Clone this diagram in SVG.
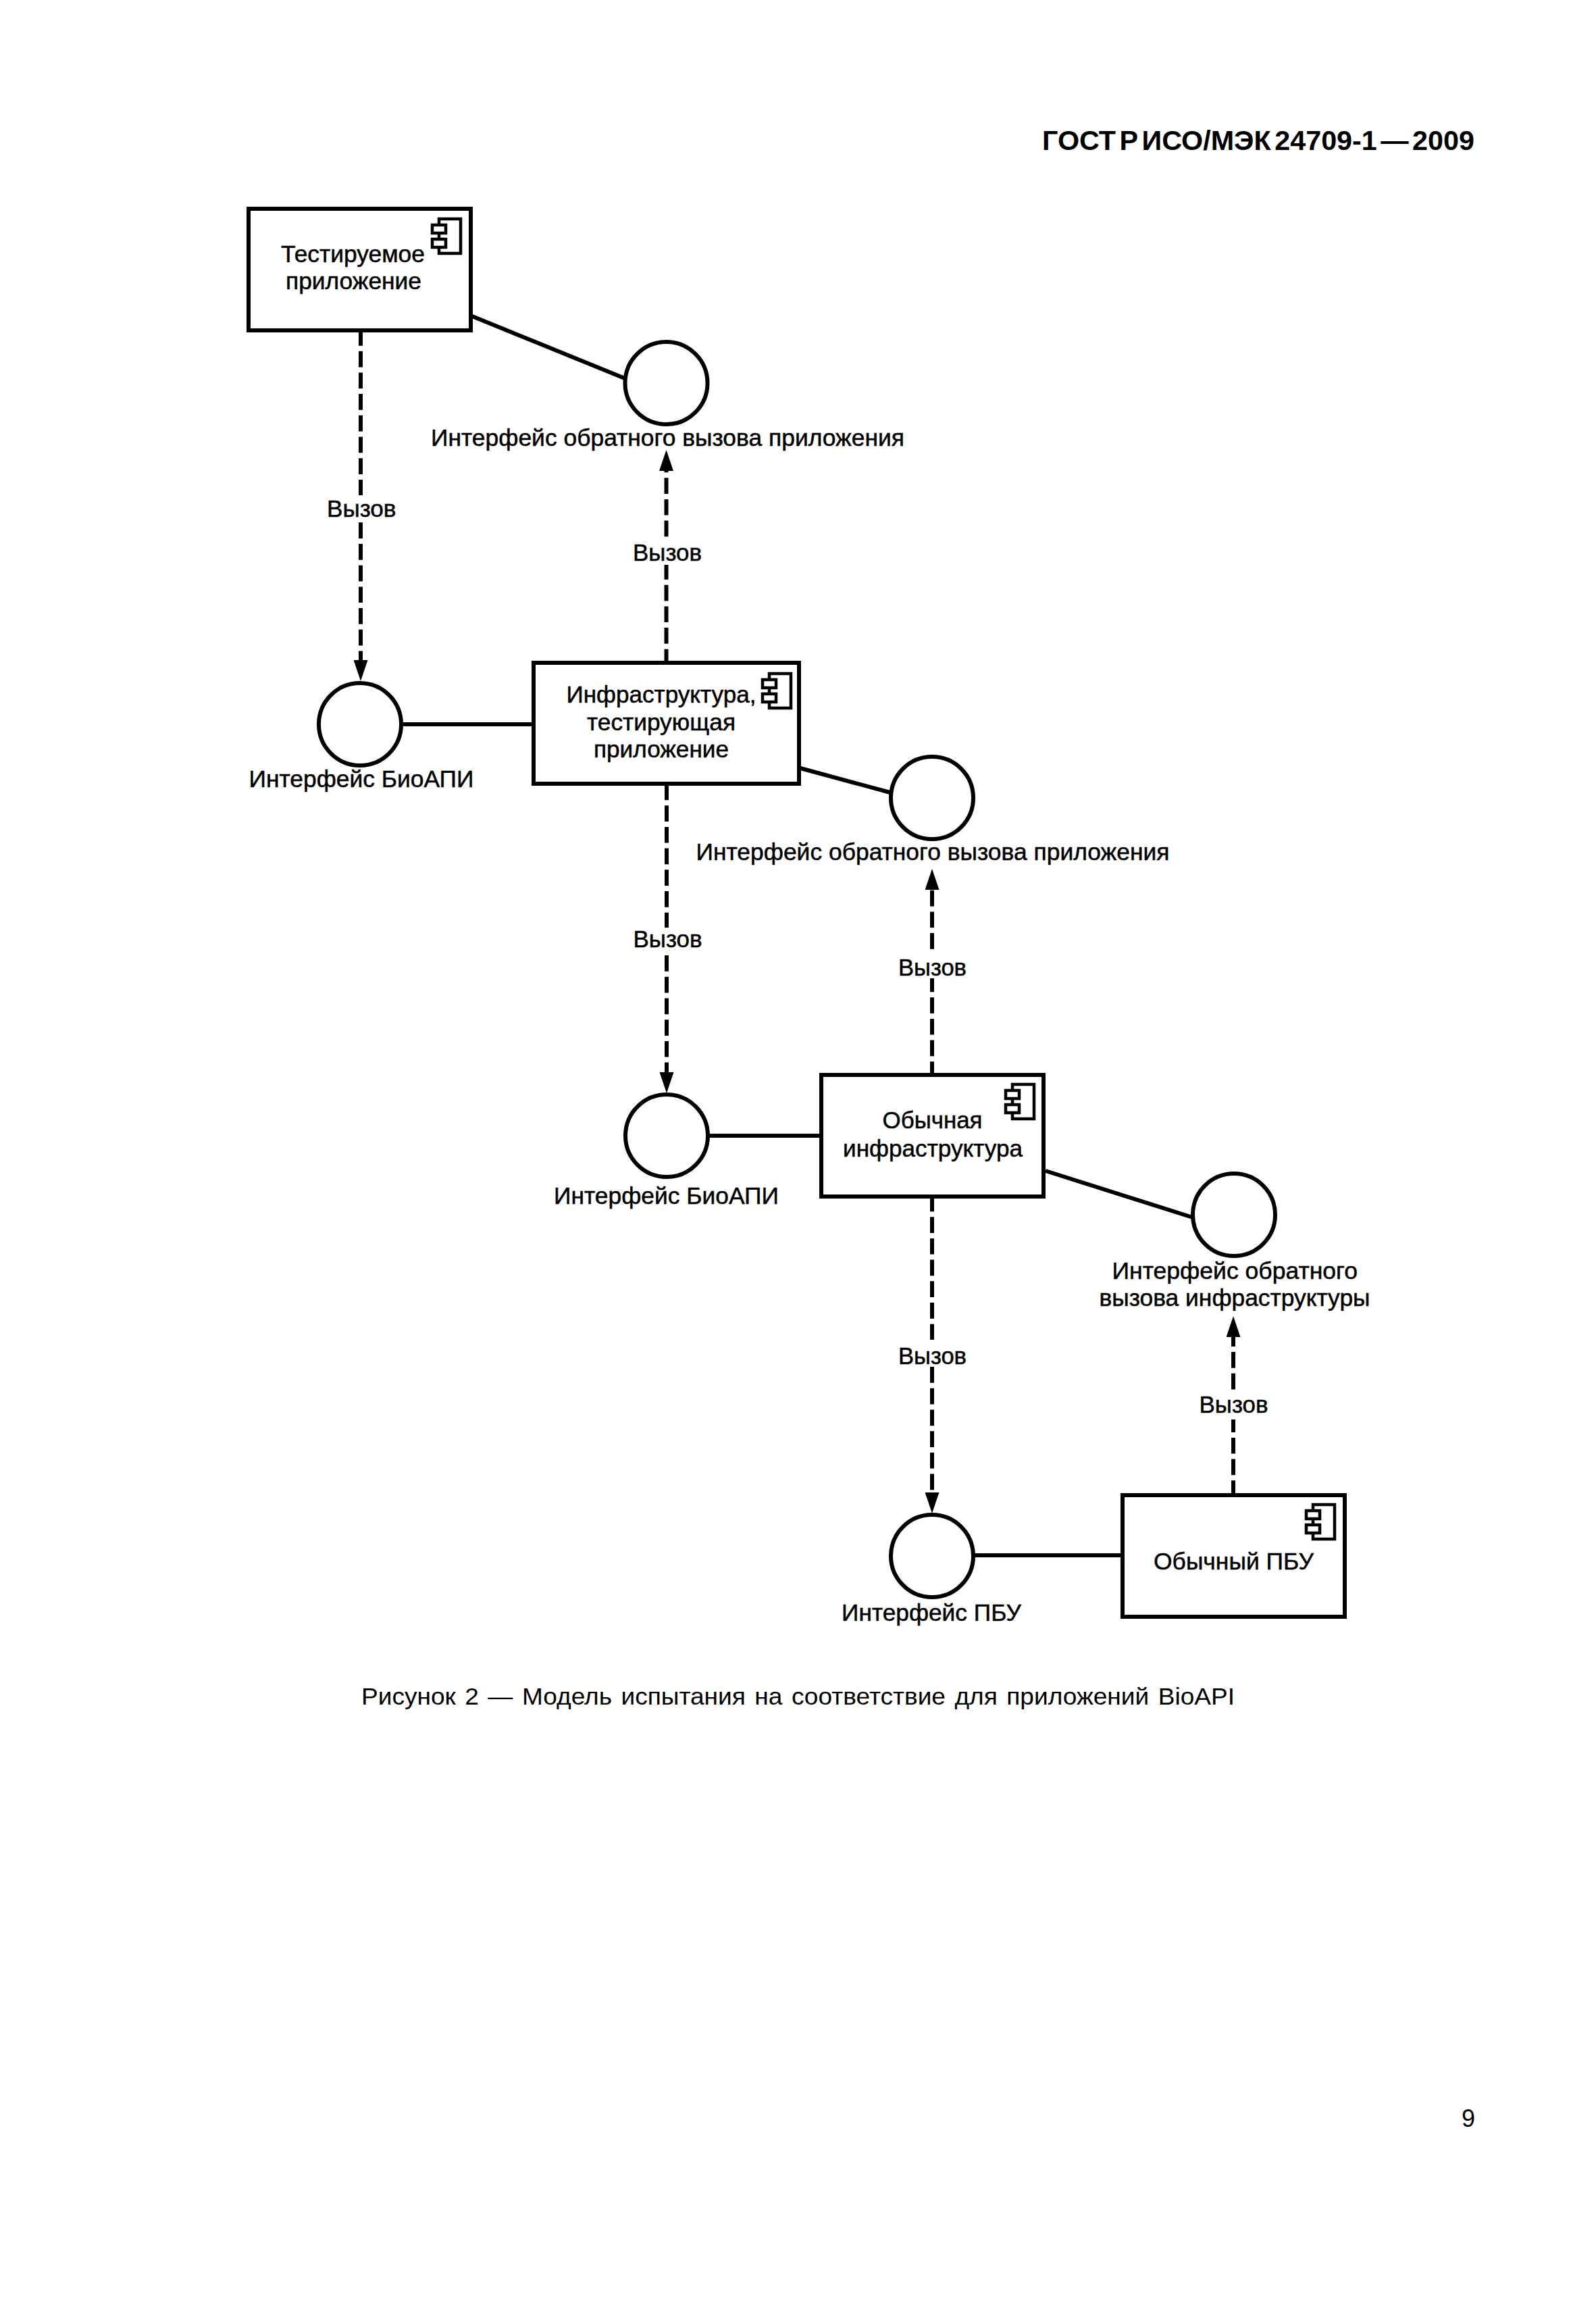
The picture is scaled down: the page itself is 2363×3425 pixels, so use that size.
<svg xmlns="http://www.w3.org/2000/svg" xmlns:xlink="http://www.w3.org/1999/xlink" width="2363" height="3425" viewBox="0 0 2363 3425">
<style>
text{font-family:"Liberation Sans",Arial,sans-serif;font-size:35px;fill:#000}
.lbl{stroke:#000;stroke-width:.5px}
.box{fill:#fff;stroke:#000;stroke-width:6}
.if{fill:#fff;stroke:#000;stroke-width:6}
.solid{fill:none;stroke:#000;stroke-width:6}
.dash{fill:none;stroke:#000;stroke-width:6;stroke-dasharray:23.7 8;marker-end:url(#arrow)}
.bg{fill:#fff}
.ic{fill:#fff;stroke:#000;stroke-width:4.5}
</style>
<defs>
<marker id="arrow" markerUnits="userSpaceOnUse" viewBox="0 0 31 21" markerWidth="31" markerHeight="21" refX="0" refY="10.5" orient="auto"><path d="M0,0L31,10.5L0,21z" fill="#000"/></marker>
<g id="icon"><rect class="ic" width="32" height="51"/><rect class="ic" x="-10" y="9" width="20" height="12"/><rect class="ic" x="-10" y="30" width="20" height="12"/></g>
</defs>
<rect width="2363" height="3425" fill="#fff"/>
<g id="page">
<text x="1543" y="222" style="font-size:41px;font-weight:700" textLength="640" lengthAdjust="spacingAndGlyphs" word-spacing="-6">ГОСТ Р ИСО/МЭК 24709-1 — 2009</text>
<text x="535" y="2523" textLength="1293" lengthAdjust="spacingAndGlyphs" word-spacing="3">Рисунок 2 — Модель испытания на соответствие для приложений BioAPI</text>
<text x="2164" y="3148" style="font-size:36px">9</text>
</g>
<g id="connectors">
<path class="solid" d="M699,468L925,560"/>
<path class="solid" d="M597,1072H790"/>
<path class="solid" d="M1185,1137L1318,1173"/>
<path class="solid" d="M1050,1681H1216"/>
<path class="solid" d="M1548,1733L1766,1802"/>
<path class="solid" d="M1443,2302H1662"/>
<path class="dash" d="M534,488V977"/>
<path class="dash" d="M986.5,984.5V697"/>
<path class="dash" d="M987,1160.5V1587"/>
<path class="dash" d="M1380,1595V1317"/>
<path class="dash" d="M1380,1769.5V2209"/>
<path class="dash" d="M1826,2215V1979"/>
<g id="call-labels">
<rect class="bg" x="505" y="733" width="60" height="40"/><text class="lbl" x="484" y="764.5" textLength="102.5" lengthAdjust="spacingAndGlyphs">Вызов</text>
<rect class="bg" x="957" y="798" width="60" height="38"/><text class="lbl" x="937" y="830" textLength="102" lengthAdjust="spacingAndGlyphs">Вызов</text>
<rect class="bg" x="957" y="1373" width="60" height="36"/><text class="lbl" x="937.5" y="1402" textLength="102" lengthAdjust="spacingAndGlyphs">Вызов</text>
<rect class="bg" x="1350" y="1410" width="60" height="38"/><text class="lbl" x="1330" y="1444" textLength="101" lengthAdjust="spacingAndGlyphs">Вызов</text>
<rect class="bg" x="1350" y="1983" width="60" height="40"/><text class="lbl" x="1330" y="2019" textLength="101" lengthAdjust="spacingAndGlyphs">Вызов</text>
<rect class="bg" x="1796" y="2063" width="60" height="38"/><text class="lbl" x="1775.5" y="2090.5" textLength="102" lengthAdjust="spacingAndGlyphs">Вызов</text>
</g>
</g>
<g id="node-tested-app"><rect class="box" x="368" y="309" width="329" height="180"/><use xlink:href="#icon" href="#icon" x="650" y="324"/>
<text class="lbl" x="416" y="388" textLength="213" lengthAdjust="spacingAndGlyphs">Тестируемое</text>
<text class="lbl" x="423" y="428" textLength="201" lengthAdjust="spacingAndGlyphs">приложение</text></g>
<g id="node-if-callback-1"><circle class="if" cx="986.5" cy="567" r="61"/>
<text class="lbl" x="638" y="659.5" textLength="701" lengthAdjust="spacingAndGlyphs">Интерфейс обратного вызова приложения</text></g>
<g id="node-if-bioapi-1"><circle class="if" cx="533" cy="1072" r="61"/>
<text class="lbl" x="368.5" y="1165" textLength="333" lengthAdjust="spacingAndGlyphs">Интерфейс БиоАПИ</text></g>
<g id="node-test-infra"><rect class="box" x="790" y="981" width="393" height="179"/><use xlink:href="#icon" href="#icon" x="1139" y="997"/>
<text class="lbl" x="838.5" y="1040" textLength="281" lengthAdjust="spacingAndGlyphs">Инфраструктура,</text>
<text class="lbl" x="869" y="1080.5" textLength="220" lengthAdjust="spacingAndGlyphs">тестирующая</text>
<text class="lbl" x="879" y="1120.5" textLength="200" lengthAdjust="spacingAndGlyphs">приложение</text></g>
<g id="node-if-callback-2"><circle class="if" cx="1380" cy="1181" r="61"/>
<text class="lbl" x="1030.5" y="1273" textLength="701" lengthAdjust="spacingAndGlyphs">Интерфейс обратного вызова приложения</text></g>
<g id="node-if-bioapi-2"><circle class="if" cx="987" cy="1681" r="61"/>
<text class="lbl" x="820" y="1781.5" textLength="333" lengthAdjust="spacingAndGlyphs">Интерфейс БиоАПИ</text></g>
<g id="node-common-infra"><rect class="box" x="1216" y="1591" width="329" height="180"/><use xlink:href="#icon" href="#icon" x="1499" y="1605"/>
<text class="lbl" x="1306.5" y="1670" textLength="148" lengthAdjust="spacingAndGlyphs">Обычная</text>
<text class="lbl" x="1248" y="1711.5" textLength="266" lengthAdjust="spacingAndGlyphs">инфраструктура</text></g>
<g id="node-if-callback-3"><circle class="if" cx="1827" cy="1798" r="61"/>
<text class="lbl" x="1646.5" y="1893" textLength="363.5" lengthAdjust="spacingAndGlyphs">Интерфейс обратного</text>
<text class="lbl" x="1627.5" y="1933" textLength="401" lengthAdjust="spacingAndGlyphs">вызова инфраструктуры</text></g>
<g id="node-if-bsp"><circle class="if" cx="1380" cy="2303" r="61"/>
<text class="lbl" x="1246" y="2399" textLength="266" lengthAdjust="spacingAndGlyphs">Интерфейс ПБУ</text></g>
<g id="node-common-bsp"><rect class="box" x="1662" y="2213" width="329" height="180"/><use xlink:href="#icon" href="#icon" x="1944" y="2227"/>
<text class="lbl" x="1708" y="2322.5" textLength="237" lengthAdjust="spacingAndGlyphs">Обычный ПБУ</text></g>
</svg>
